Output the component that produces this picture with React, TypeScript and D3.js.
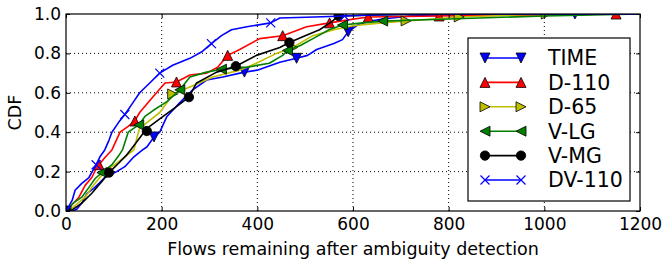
import React, { useRef, useEffect } from "react";
import * as d3 from "d3";

type Pt = [number, number];

// curves: [flows remaining, CDF]
const timeCurve: Pt[] = [
  [0, 0], [15, 0], [23, 0.01], [33, 0.04], [44, 0.09], [58, 0.115], [69, 0.14], [81, 0.17],
  [106, 0.2], [123, 0.225], [142, 0.275], [160, 0.31], [169, 0.325], [184, 0.376], [196, 0.4],
  [211, 0.48], [238, 0.55], [265, 0.615], [294, 0.665], [328, 0.68], [373, 0.705], [400, 0.715],
  [447, 0.755], [482, 0.775], [505, 0.79], [524, 0.82], [560, 0.85], [578, 0.87], [590, 0.91],
  [610, 0.945], [628, 0.96], [662, 0.975], [720, 0.99], [800, 0.995], [1064, 1], [1200, 1],
];
const timeMarks: Pt[] = [[0, 0], [184, 0.376], [373, 0.705], [482, 0.775], [590, 0.91], [1064, 1]];

const d110Curve: Pt[] = [
  [0, 0], [8, 0.02], [27, 0.07], [40, 0.13], [54, 0.17], [65, 0.225], [69, 0.235], [81, 0.27],
  [96, 0.31], [113, 0.4], [130, 0.43], [144, 0.457], [154, 0.5], [182, 0.58], [207, 0.65],
  [231, 0.655], [259, 0.69], [294, 0.7], [317, 0.73], [338, 0.79], [363, 0.82], [405, 0.875],
  [453, 0.89], [503, 0.935], [551, 0.955], [590, 0.97], [632, 0.985], [780, 0.99], [1150, 1], [1200, 1],
];
const d110Marks: Pt[] = [
  [0, 0], [69, 0.235], [144, 0.457], [231, 0.655], [338, 0.79], [453, 0.89], [551, 0.955],
  [632, 0.985], [780, 0.99], [1150, 1],
];

const d65Curve: Pt[] = [
  [0, 0], [10, 0.01], [25, 0.04], [40, 0.07], [54, 0.12], [69, 0.165], [81, 0.2], [102, 0.235],
  [123, 0.275], [142, 0.31], [148, 0.37], [154, 0.42], [175, 0.46], [196, 0.5], [217, 0.57],
  [223, 0.594], [259, 0.63], [307, 0.68], [363, 0.715], [398, 0.75], [440, 0.8], [474, 0.83],
  [516, 0.89], [560, 0.92], [600, 0.94], [660, 0.955], [711, 0.965], [770, 0.975], [822, 0.985],
  [1004, 1], [1200, 1],
];
const d65Marks: Pt[] = [[0, 0], [223, 0.594], [474, 0.83], [711, 0.965], [822, 0.985], [1004, 1]];

const vlgCurve: Pt[] = [
  [0, 0], [5, 0.01], [15, 0.04], [33, 0.07], [48, 0.12], [61, 0.165], [75, 0.195], [96, 0.235],
  [110, 0.28], [118, 0.31], [130, 0.4], [152, 0.437], [165, 0.48], [182, 0.51], [211, 0.555],
  [238, 0.615], [259, 0.68], [294, 0.705], [325, 0.72], [378, 0.73], [425, 0.75], [453, 0.79],
  [463, 0.815], [490, 0.84], [520, 0.88], [550, 0.92], [578, 0.944], [620, 0.955], [662, 0.964],
  [800, 0.975], [1000, 0.99], [1200, 1],
];
const vlgMarks: Pt[] = [
  [0, 0], [75, 0.195], [152, 0.437], [238, 0.615], [325, 0.72], [463, 0.815], [578, 0.944], [662, 0.964],
];

const vmgCurve: Pt[] = [
  [0, 0], [10, 0], [33, 0.04], [54, 0.09], [75, 0.15], [90, 0.195], [111, 0.245], [127, 0.285],
  [135, 0.31], [163, 0.4], [169, 0.406], [175, 0.43], [203, 0.48], [231, 0.53], [257, 0.578],
  [273, 0.65], [315, 0.705], [355, 0.735], [398, 0.79], [447, 0.83], [467, 0.855], [500, 0.89],
  [530, 0.92], [555, 0.96], [570, 0.99], [650, 0.995], [800, 1], [1200, 1],
];
const vmgMarks: Pt[] = [[0, 0], [90, 0.195], [169, 0.406], [257, 0.578], [355, 0.735], [467, 0.855], [570, 0.99]];

const dv110Curve: Pt[] = [
  [0, 0], [5, 0.02], [13, 0.055], [19, 0.105], [33, 0.14], [48, 0.17], [63, 0.235], [71, 0.275],
  [81, 0.31], [90, 0.36], [96, 0.4], [110, 0.45], [123, 0.49], [140, 0.55], [154, 0.6], [175, 0.65],
  [196, 0.7], [223, 0.74], [259, 0.775], [285, 0.81], [304, 0.85], [325, 0.89], [346, 0.92],
  [378, 0.935], [428, 0.955], [447, 0.98], [520, 0.985], [582, 0.99], [640, 0.995], [720, 1], [1200, 1],
];
const dv110Marks: Pt[] = [[0, 0], [63, 0.235], [123, 0.49], [196, 0.7], [304, 0.85], [428, 0.955], [582, 0.99]];

const seriesNames = ["TIME", "D-110", "D-65", "V-LG", "V-MG", "DV-110"];
const xTicks = [0, 200, 400, 600, 800, 1000, 1200];
const yTicks = [0, 0.2, 0.4, 0.6, 0.8, 1.0];

const series = [
  { name: seriesNames[0], curve: timeCurve, marks: timeMarks, color: "#0000ff", marker: "down" },
  { name: seriesNames[1], curve: d110Curve, marks: d110Marks, color: "#ff0000", marker: "up" },
  { name: seriesNames[2], curve: d65Curve, marks: d65Marks, color: "#bfbf00", marker: "right" },
  { name: seriesNames[3], curve: vlgCurve, marks: vlgMarks, color: "#008000", marker: "left" },
  { name: seriesNames[4], curve: vmgCurve, marks: vmgMarks, color: "#000000", marker: "circle" },
  { name: seriesNames[5], curve: dv110Curve, marks: dv110Marks, color: "#0000ff", marker: "x" },
];

const W = 665;
const H = 264;
const FONT = "DejaVu Sans, sans-serif";

// matplotlib-ish marker paths centred at 0,0
const markerPath = (kind: string) => {
  const r = 5;
  if (kind === "up") return `M0,${-r}L${r},${r}L${-r},${r}Z`;
  if (kind === "down") return `M0,${r}L${r},${-r}L${-r},${-r}Z`;
  if (kind === "right") return `M${r},0L${-r},${-r}L${-r},${r}Z`;
  if (kind === "left") return `M${-r},0L${r},${-r}L${r},${r}Z`;
  if (kind === "x") return `M-4.5,-4.5L4.5,4.5M-4.5,4.5L4.5,-4.5`;
  return d3.symbol(d3.symbolCircle, Math.PI * 4.7 * 4.7)() as string;
};

const drawMarker = (g: any, kind: string, color: string, x: number, y: number) => {
  const p = g.append("path").attr("d", markerPath(kind)).attr("transform", `translate(${x},${y})`);
  if (kind === "x") p.attr("fill", "none").attr("stroke", color).attr("stroke-width", 1.2);
  else p.attr("fill", color).attr("stroke", "#000").attr("stroke-width", 0.8);
};

const App = () => {
  const svgRef = useRef<SVGSVGElement>(null);

  useEffect(() => {
    const svg = d3.select(svgRef.current);
    svg.selectAll("*").remove();

    const margin = { top: 14, right: 25, bottom: 53, left: 66 };
    const x = d3.scaleLinear().domain([0, 1200]).range([margin.left, W - margin.right]);
    const y = d3.scaleLinear().domain([0, 1]).range([H - margin.bottom, margin.top]);
    const [x0, x1] = x.range();
    const [y0, y1] = y.range();

    svg.append("rect").attr("width", W).attr("height", H).attr("fill", "#fff");

    svg.append("defs").append("clipPath").attr("id", "plotclip")
      .append("rect").attr("x", x0).attr("y", y1).attr("width", x1 - x0).attr("height", y0 - y1);

    // dotted grid
    const grid = svg.append("g").attr("stroke", "#000").attr("stroke-width", 1).attr("stroke-dasharray", "1,3");
    xTicks.slice(1, -1).forEach(t => {
      grid.append("line").attr("x1", x(t)).attr("x2", x(t)).attr("y1", y0).attr("y2", y1);
    });
    yTicks.slice(1, -1).forEach(t => {
      grid.append("line").attr("x1", x0).attr("x2", x1).attr("y1", y(t)).attr("y2", y(t));
    });

    // curves and markers
    const plot = svg.append("g").attr("clip-path", "url(#plotclip)");
    const line = d3.line<Pt>().x(d => x(d[0])).y(d => y(d[1]));
    series.forEach(s => {
      plot.append("path").datum(s.curve).attr("fill", "none").attr("stroke", s.color)
        .attr("stroke-width", 1.6).attr("stroke-linejoin", "round").attr("d", line);
      s.marks.forEach(m => drawMarker(plot, s.marker, s.color, x(m[0]), y(m[1])));
    });

    // axes, ticks inward on all sides
    const styleAxis = (g: any) => {
      g.select(".domain").remove();
      g.selectAll("line").attr("stroke", "#000").attr("stroke-width", 1);
      g.selectAll("text").attr("font-family", FONT).attr("font-size", 17).attr("fill", "#000");
    };
    svg.append("g").attr("transform", `translate(0,${y0})`)
      .call(d3.axisBottom(x).tickValues(xTicks).tickSize(-4).tickPadding(7).tickFormat(d => String(d)))
      .call(styleAxis);
    svg.append("g").attr("transform", `translate(0,${y1})`)
      .call(d3.axisTop(x).tickValues(xTicks).tickSize(-4).tickFormat(() => ""))
      .call(styleAxis);
    svg.append("g").attr("transform", `translate(${x0},0)`)
      .call(d3.axisLeft(y).tickValues(yTicks).tickSize(-4).tickPadding(5).tickFormat(d3.format(".1f")))
      .call(styleAxis);
    svg.append("g").attr("transform", `translate(${x1},0)`)
      .call(d3.axisRight(y).tickValues(yTicks).tickSize(-4).tickFormat(() => ""))
      .call(styleAxis);

    svg.append("rect").attr("x", x0).attr("y", y1).attr("width", x1 - x0).attr("height", y0 - y1)
      .attr("fill", "none").attr("stroke", "#000").attr("stroke-width", 1.2);

    svg.append("text").attr("x", (x0 + x1) / 2).attr("y", 255).attr("text-anchor", "middle")
      .attr("font-family", FONT).attr("font-size", 17.5).text("Flows remaining after ambiguity detection");
    svg.append("text").attr("transform", `translate(21,${(y0 + y1) / 2}) rotate(-90)`)
      .attr("text-anchor", "middle").attr("font-family", FONT).attr("font-size", 17.5).text("CDF");

    // legend
    const legend = svg.append("g");
    legend.append("rect").attr("x", 468).attr("y", 38).attr("width", 162).attr("height", 163)
      .attr("fill", "#fff").attr("stroke", "#000").attr("stroke-width", 1.2);
    series.forEach((s, i) => {
      const ly = 58 + i * 24.4;
      legend.append("line").attr("x1", 485).attr("x2", 521).attr("y1", ly).attr("y2", ly)
        .attr("stroke", s.color).attr("stroke-width", 1.6);
      drawMarker(legend, s.marker, s.color, 485, ly);
      drawMarker(legend, s.marker, s.color, 521, ly);
      legend.append("text").attr("x", 548).attr("y", ly).attr("dy", "0.36em")
        .attr("font-family", FONT).attr("font-size", 20.5).text(s.name);
    });
  }, []);

  return (
    <svg ref={svgRef} width={W} height={H}
      style={{ position: "absolute", left: 0, top: 0, display: "block" }} />
  );
};

export default App;
